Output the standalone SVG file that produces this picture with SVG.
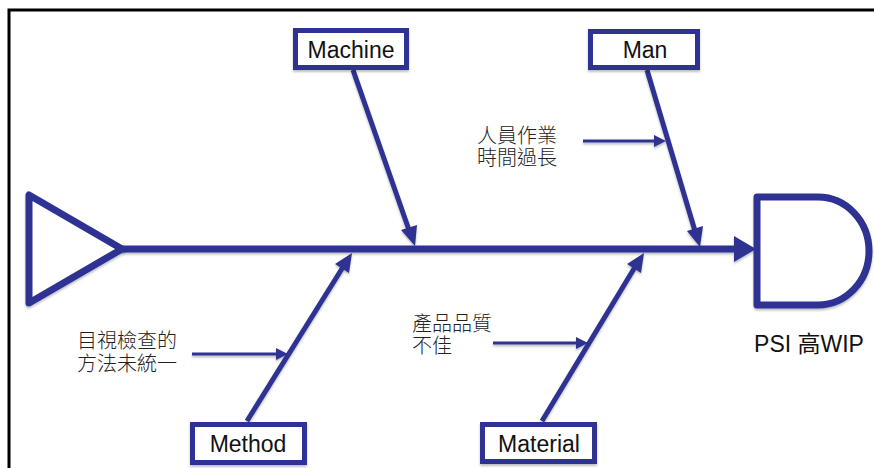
<svg xmlns="http://www.w3.org/2000/svg" width="874" height="468" viewBox="0 0 874 468">
  <style>
    .frame { stroke: #000; stroke-width: 3; fill: none; }
    .shape { stroke: #2E3092; fill: #fff; stroke-width: 7; stroke-linejoin: round; }
    .box { stroke: #2E3092; fill: #fff; stroke-width: 5; }
    .bone { stroke: #2E3092; stroke-width: 5; fill: none; }
    .spine { stroke: #2E3092; stroke-width: 7; fill: none; }
    .cause { stroke: #2E3092; stroke-width: 3; fill: none; }
    .head { fill: #2E3092; }
    .lbl { font-family: "Liberation Sans", Arial, sans-serif; font-size: 23px; fill: #111; text-anchor: middle; }
    .note { font-family: "Noto Sans CJK TC", "Noto Sans CJK SC", sans-serif; font-size: 20px; fill: #222; font-weight: 300; }
    .effect { font-family: "Liberation Sans", "Noto Sans CJK TC", sans-serif; font-size: 23px; fill: #111; text-anchor: middle; }
  </style>
  <defs>
    <filter id="shadow" x="-10%" y="-10%" width="120%" height="130%">
      <feDropShadow dx="0" dy="2" stdDeviation="1.2" flood-color="#000" flood-opacity="0.25"/>
    </filter>
  </defs>

  <rect width="874" height="468" fill="#fff"/>
  <!-- page frame -->
  <path class="frame" d="M9,468 V10 H874"/>

  <!-- connectors: spine, bones and sub-cause arrows -->
  <g id="connectors" filter="url(#shadow)">
    <line class="spine" x1="122" y1="249" x2="740" y2="249"/>
    <polygon class="head" points="756,249 734,236 734,262"/>

    <!-- Machine -->
    <line class="bone" x1="353" y1="70" x2="409" y2="230"/>
    <polygon class="head" points="415,246 401,230 417,225"/>
    <!-- Man -->
    <line class="bone" x1="647" y1="70" x2="695" y2="231"/>
    <polygon class="head" points="700,247 687,231 703,226"/>
    <!-- Method -->
    <line class="bone" x1="247" y1="421" x2="343" y2="267"/>
    <polygon class="head" points="352,253 349,273 335,264"/>
    <!-- Material -->
    <line class="bone" x1="542" y1="421" x2="635" y2="267"/>
    <polygon class="head" points="644,253 641,273 627,264"/>

    <!-- sub-causes -->
    <line class="cause" x1="583" y1="141" x2="656" y2="141"/>
    <polygon class="head" points="666,141 654,135 654,147"/>
    <line class="cause" x1="192" y1="354" x2="278" y2="354"/>
    <polygon class="head" points="288,354 276,348 276,360"/>
    <line class="cause" x1="493" y1="343" x2="578" y2="343"/>
    <polygon class="head" points="588,343 576,337 576,349"/>
  </g>

  <!-- head of the fish: start triangle -->
  <g id="start" filter="url(#shadow)">
    <polygon class="shape" points="29,195 29,303 122,249"/>
  </g>

  <!-- effect -->
  <g id="effect">
    <path class="shape" filter="url(#shadow)" d="M757,197 H818 A51,54 0 0 1 818,305 H757 Z"/>
    <text class="effect" x="809" y="352">PSI 高WIP</text>
  </g>

  <g id="machine">
    <rect class="box" x="295.5" y="30.5" width="111" height="37" filter="url(#shadow)"/>
    <text class="lbl" x="351" y="58">Machine</text>
  </g>

  <g id="man">
    <rect class="box" x="590.5" y="31.5" width="107" height="36" filter="url(#shadow)"/>
    <text class="lbl" x="645" y="58">Man</text>
  </g>

  <g id="method">
    <rect class="box" x="192.5" y="424.5" width="112" height="38" filter="url(#shadow)"/>
    <text class="lbl" x="248" y="452">Method</text>
  </g>

  <g id="material">
    <rect class="box" x="482.5" y="424.5" width="112" height="37" filter="url(#shadow)"/>
    <text class="lbl" x="539" y="452">Material</text>
  </g>

  <g id="cause-man">
    <text class="note" x="477" y="143">人員作業<tspan x="477" dy="22">時間過長</tspan></text>
  </g>

  <g id="cause-method">
    <text class="note" x="77" y="348">目視檢查的<tspan x="77" dy="23">方法未統一</tspan></text>
  </g>

  <g id="cause-material">
    <text class="note" x="412" y="331">產品品質<tspan x="412" dy="22">不佳</tspan></text>
  </g>
</svg>
